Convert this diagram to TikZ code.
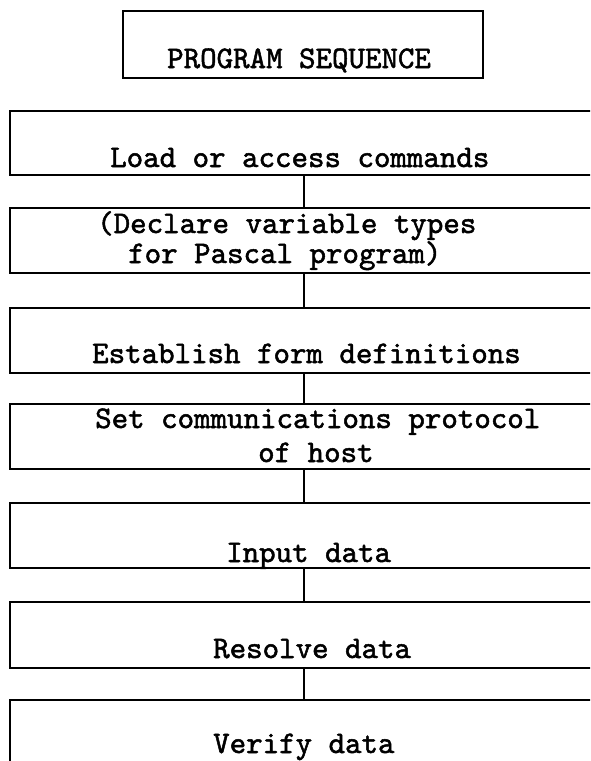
\documentclass[tikz,border=0pt]{standalone}
\usepackage{fontspec}
\newfontfamily\twfont{lmmono10-regular.otf}[FakeBold=1.6]
\begin{document}
\begin{tikzpicture}[x=1pt,y=-1pt,
  frame/.style={draw=black,line width=2pt,rectangle,inner sep=0pt,anchor=north west,minimum width=640pt},
  titlebox/.style={draw=black,line width=2pt,rectangle,inner sep=0pt,anchor=north west},
  lbl/.style={anchor=base west,inner sep=0pt,font=\fontsize{31.4}{34}\twfont},
  conn/.style={draw=black,line width=2pt}]
\useasboundingbox (0,0) rectangle (590,761);
\clip (0,0) rectangle (590,761);
% title
\node[titlebox,minimum width=360pt,minimum height=67pt] (title) at (122,10) {};
\node[lbl] (ttitle) at (167,68) {PROGRAM SEQUENCE};
% boxes
\node[frame,minimum height=64pt] (b1) at (9,110) {};
\node[frame,minimum height=65pt] (b2) at (9,207) {};
\node[frame,minimum height=65pt] (b3) at (9,307) {};
\node[frame,minimum height=65pt] (b4) at (9,403) {};
\node[frame,minimum height=65pt] (b5) at (9,502) {};
\node[frame,minimum height=66pt] (b6) at (9,601) {};
\node[frame,minimum height=90pt] (b7) at (9,699) {};
% texts
\node[lbl] (t1) at (110,167) {Load or access commands};
\node[lbl] (t2a) at (97,233) {(Declare variable types};
\node[lbl] (t2b) at (128,263) {for Pascal program)};
\node[lbl] (t3) at (92,363) {Establish form definitions};
\node[lbl] (t4a) at (95,428) {Set communications protocol};
\node[lbl] (t4b) at (258,462) {of host};
\node[lbl] (t5) at (226,562) {Input data};
\node[lbl] (t6) at (213,658) {Resolve data};
\node[lbl] (t7) at (213,753) {Verify data};
% connectors
\coordinate (cx) at (304,0);
\draw[conn] (b1.south -| cx) -- (b2.north -| cx);
\draw[conn] (b2.south -| cx) -- (b3.north -| cx);
\draw[conn] (b3.south -| cx) -- (b4.north -| cx);
\draw[conn] (b4.south -| cx) -- (b5.north -| cx);
\draw[conn] (b5.south -| cx) -- (b6.north -| cx);
\draw[conn] (b6.south -| cx) -- (b7.north -| cx);
\end{tikzpicture}
\end{document}
